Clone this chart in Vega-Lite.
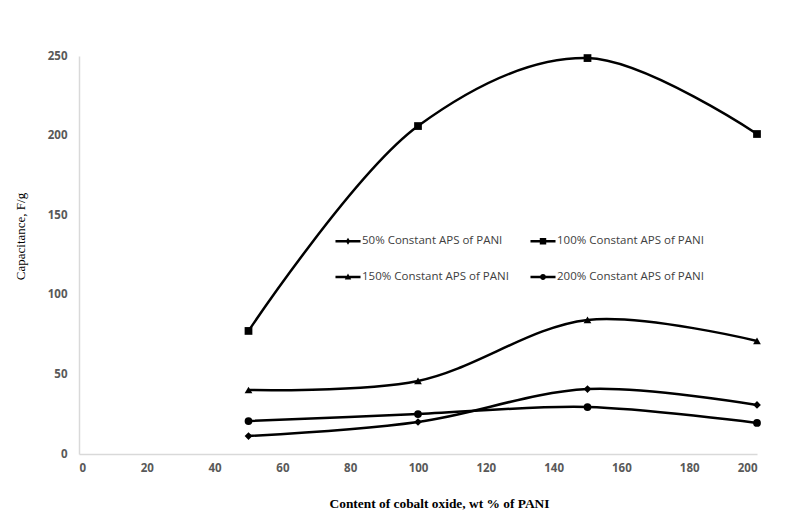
{
  "$schema": "https://vega.github.io/schema/vega-lite/v6.json",
  "width": 678,
  "height": 398,
  "autosize": {"type": "none"},
  "padding": {"left": 79, "top": 56, "right": 30, "bottom": 71},
  "background": "white",
  "config": {
    "view": {"stroke": null},
    "axis": {"grid": false, "ticks": false, "domainColor": "#d9d9d9", "domainWidth": 1.5,
      "labelFont": "Open Sans", "labelFontWeight": "bold", "labelColor": "#595959", "labelFontSize": 11.5}
  },
  "data": {"values": [
    {"wt": 50, "cap": 11.3, "series": "50% Constant APS of PANI"},
    {"wt": 100, "cap": 20.1, "series": "50% Constant APS of PANI"},
    {"wt": 150, "cap": 40.8, "series": "50% Constant APS of PANI"},
    {"wt": 200, "cap": 30.8, "series": "50% Constant APS of PANI"},
    {"wt": 50, "cap": 77.3, "series": "100% Constant APS of PANI"},
    {"wt": 100, "cap": 206, "series": "100% Constant APS of PANI"},
    {"wt": 150, "cap": 248.7, "series": "100% Constant APS of PANI"},
    {"wt": 200, "cap": 201, "series": "100% Constant APS of PANI"},
    {"wt": 50, "cap": 40.2, "series": "150% Constant APS of PANI"},
    {"wt": 100, "cap": 45.9, "series": "150% Constant APS of PANI"},
    {"wt": 150, "cap": 84.2, "series": "150% Constant APS of PANI"},
    {"wt": 200, "cap": 71, "series": "150% Constant APS of PANI"},
    {"wt": 50, "cap": 20.7, "series": "200% Constant APS of PANI"},
    {"wt": 100, "cap": 25.1, "series": "200% Constant APS of PANI"},
    {"wt": 150, "cap": 29.5, "series": "200% Constant APS of PANI"},
    {"wt": 200, "cap": 19.5, "series": "200% Constant APS of PANI"}
  ]},
  "encoding": {
    "x": {"field": "wt", "type": "quantitative", "scale": {"domain": [0, 200], "nice": false},
      "axis": {"values": [0,20,40,60,80,100,120,140,160,180,200], "labelPadding": 8,
        "title": "Content of cobalt oxide, wt % of  PANI", "titleFont": "Liberation Serif", "titleFontSize": 13.4, "titleFontWeight": "bold", "titleColor": "#000000", "titlePadding": 23, "titleX": 360}},
    "y": {"field": "cap", "type": "quantitative", "scale": {"domain": [0, 250], "nice": false},
      "axis": {"values": [0,50,100,150,200,250], "labelPadding": 12,
        "title": "Capacitance, F/g", "titleFont": "Liberation Serif", "titleFontSize": 13, "titleFontWeight": "normal", "titleColor": "#000000", "titlePadding": 20, "titleY": 180}}
  },
  "layer": [
    {
      "mark": {"type": "line", "interpolate": "catmull-rom", "color": "black", "strokeWidth": 2.5},
      "encoding": {"detail": {"field": "series"}}
    },
    {
      "mark": {"type": "point", "filled": true, "color": "black", "opacity": 1, "size": 60},
      "encoding": {
        "shape": {"field": "series", "type": "nominal",
          "scale": {"domain": ["50% Constant APS of PANI", "150% Constant APS of PANI", "100% Constant APS of PANI", "200% Constant APS of PANI"],
            "range": ["diamond", "triangle-up", "square", "circle"]},
          "legend": null
        }
      }
    },
    {
      "transform": [{"filter": "false"}],
      "mark": {"type": "point", "filled": true, "color": "black", "opacity": 1},
      "encoding": {
        "shape": {"field": "series", "type": "nominal",
          "scale": {"domain": ["50% Constant APS of PANI", "150% Constant APS of PANI", "100% Constant APS of PANI", "200% Constant APS of PANI"],
            "range": ["M-1.4,-0.13H1.4V0.13H-1.4ZM0,-0.38L0.25,0L0,0.38L-0.25,0Z", "M-1.4,-0.13H1.4V0.13H-1.4ZM0,-0.4L0.36,0.28H-0.36Z", "M-1.4,-0.13H1.4V0.13H-1.4ZM-0.36,-0.36H0.36V0.36H-0.36Z", "M-1.4,-0.13H1.4V0.13H-1.4ZM0.33,0A0.33,0.33,0,1,1,-0.33,0A0.33,0.33,0,1,1,0.33,0Z"]},
          "legend": {"title": null, "orient": "none", "legendX": 260, "legendY": 176, "columns": 2, "columnPadding": 21, "rowPadding": 21,
            "labelFont": "Open Sans", "labelFontSize": 11.5, "labelColor": "#404040", "labelLimit": 300, "symbolSize": 320, "symbolStrokeWidth": 0, "symbolFillColor": "black", "symbolOpacity": 1, "labelOffset": 5}
        }
      }
    }
  ],
  "resolve": {"scale": {"shape": "independent"}, "legend": {"shape": "independent"}}
}
